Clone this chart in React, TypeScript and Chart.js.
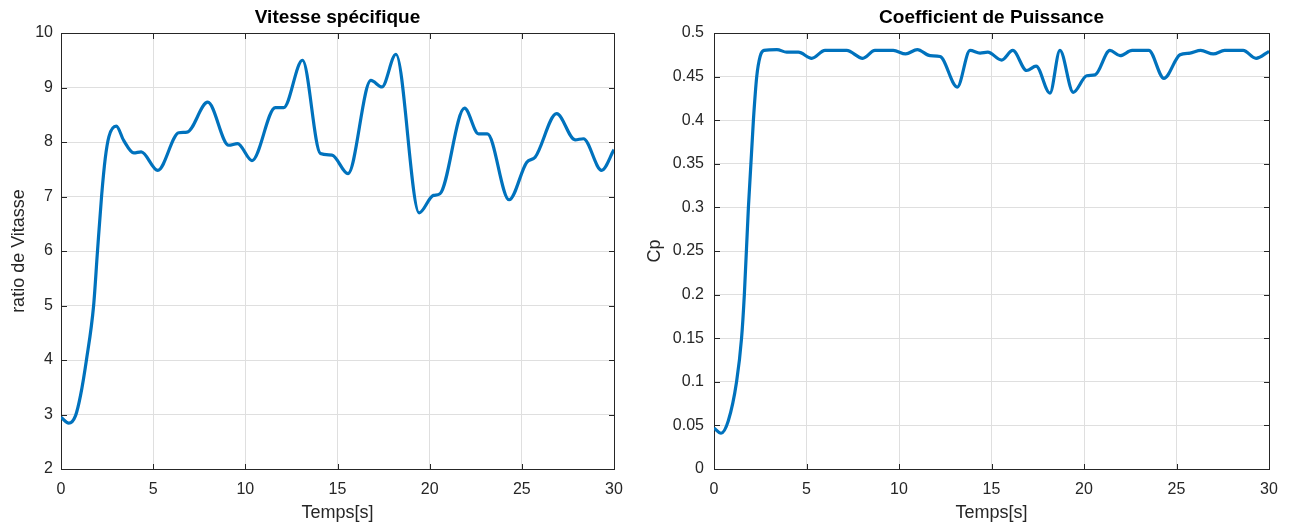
import React, { useEffect, useRef } from 'react';
import { Chart, registerables } from 'chart.js';

Chart.register(...registerables);

// ---- Data ----
const timeVitesse = [
  0, 0.42, 0.79, 1.06, 1.38, 1.77, 1.98, 2.2, 2.4, 2.6, 3.0, 3.4, 3.95, 4.35,
  5.25, 6.39, 6.84, 7.96, 9.1, 9.58, 10.36, 11.63, 12.08, 13.1, 14.07, 14.7, 15.57, 16.81,
  17.41, 18.17, 19.43, 20.2, 20.56, 21.89, 22.65, 23.13, 24.31, 25.27, 25.72, 26.89, 27.89,
  28.34, 29.33, 30,
];
const vitesse = [
  2.95, 2.84, 2.98, 3.35, 4.0, 5.0, 6.0, 7.0, 7.7, 8.1, 8.29, 8.03, 7.8, 7.82,
  7.48, 8.17, 8.18, 8.73, 7.94, 7.97, 7.66, 8.63, 8.63, 9.5, 7.79, 7.76, 7.42, 9.13,
  9.01, 9.61, 6.7, 7.02, 7.05, 8.62, 8.15, 8.15, 6.94, 7.63, 7.72, 8.52, 8.04,
  8.06, 7.48, 7.86,
];

const timeCp = [
  0, 0.38, 0.77, 1.22, 1.49, 1.64, 1.86, 2.13, 2.31, 2.49, 2.7, 3.4, 3.93, 4.56, 5.28, 6.0,
  7.17, 8.04, 8.7, 9.69, 10.36, 10.99, 11.68, 12.22, 13.15, 13.84, 14.38, 14.8, 15.55, 16.15,
  16.9, 17.41, 18.16, 18.7, 19.42, 20.15, 20.6, 21.4, 21.95, 22.6, 23.5, 24.32, 25.19, 25.73,
  26.31, 26.99, 27.6, 28.6, 29.3, 30,
];
const cp = [
  0.047, 0.041, 0.055, 0.1, 0.15, 0.2, 0.3, 0.4, 0.45, 0.473, 0.48, 0.481, 0.478, 0.478, 0.471, 0.48,
  0.48, 0.471, 0.48, 0.48, 0.476, 0.481, 0.474, 0.473, 0.438, 0.48, 0.477, 0.478, 0.469, 0.48,
  0.457, 0.462, 0.431, 0.48, 0.432, 0.451, 0.452, 0.48, 0.474, 0.48, 0.48, 0.448, 0.475, 0.477,
  0.48, 0.476, 0.48, 0.48, 0.471, 0.479,
];

const xRange = [0, 30];
const xStep = 5;
const vitRange = [2, 10];
const vitStep = 1;
const cpRange = [0, 0.5];
const cpStep = 0.05;

const titleVit = 'Vitesse spécifique';
const titleCp = 'Coefficient de Puissance';
const xLabel = 'Temps[s]';
const yLabelVit = 'ratio de Vitasse';
const yLabelCp = 'Cp';

// ---- Styles ----
const FONT = "'Liberation Sans', Arial, Helvetica, sans-serif";
const LINE = '#0072BD';
const AXIS = '#262626';
const GRID = '#dfdfdf';
const H = 524;
const PLOT_BOTTOM = 469;

const boxTicks = {
  id: 'boxTicks',
  afterDraw(chart: any) {
    const { ctx, chartArea, scales } = chart;
    const { left, right, top, bottom } = chartArea;
    const len = 5.5;
    const a = (v: number) => Math.round(v) + 0.5;
    ctx.save();
    ctx.strokeStyle = AXIS;
    ctx.lineWidth = 1;
    ctx.beginPath();
    ctx.moveTo(a(left), a(top));
    ctx.lineTo(a(right), a(top));
    ctx.lineTo(a(right), a(bottom));
    const x = scales.x;
    x.ticks.forEach((t: any) => {
      const px = a(x.getPixelForValue(t.value));
      ctx.moveTo(px, a(bottom));
      ctx.lineTo(px, a(bottom) - len);
      ctx.moveTo(px, a(top));
      ctx.lineTo(px, a(top) + len);
    });
    const y = scales.y;
    y.ticks.forEach((t: any) => {
      const py = a(y.getPixelForValue(t.value));
      ctx.moveTo(a(left), py);
      ctx.lineTo(a(left) + len, py);
      ctx.moveTo(a(right), py);
      ctx.lineTo(a(right) - len, py);
    });
    ctx.stroke();
    ctx.restore();
  },
};

type PanelProps = {
  title: string;
  yLabel: string;
  xs: number[];
  ys: number[];
  yRange: number[];
  yStep: number;
  canvasLeft: number;
  canvasWidth: number;
  plotLeft: number;
  plotRight: number;
  yTitlePad: number;
  yTickPad: number;
};

function Panel(p: PanelProps) {
  const ref = useRef<HTMLCanvasElement | null>(null);
  useEffect(() => {
    if (!ref.current) return;
    const data = p.xs.map((x, i) => ({ x, y: p.ys[i] }));
    const chart = new Chart(ref.current, {
      type: 'line',
      data: {
        datasets: [
          {
            data,
            borderColor: LINE,
            borderWidth: 3.2,
            pointRadius: 0,
            fill: false,
            cubicInterpolationMode: 'monotone',
          },
        ],
      },
      options: {
        animation: false,
        responsive: false,
        maintainAspectRatio: false,
        layout: { padding: { left: 0, top: 0, bottom: 0, right: p.canvasWidth - p.plotRight } },
        plugins: {
          legend: { display: false },
          tooltip: { enabled: false },
          title: {
            display: true,
            fullSize: false,
            text: p.title,
            color: '#000',
            font: { family: FONT, size: 19, weight: 'bold', lineHeight: 1.2 },
            padding: { top: 6.4, bottom: 3.8 },
          },
        },
        scales: {
          x: {
            type: 'linear',
            min: xRange[0],
            max: xRange[1],
            afterFit: (s: any) => {
              s.height = H - PLOT_BOTTOM;
            },
            ticks: {
              stepSize: xStep,
              color: AXIS,
              padding: 11,
              maxRotation: 0,
              font: { family: FONT, size: 16 },
            },
            grid: { color: GRID, drawTicks: false, lineWidth: 1 },
            border: { color: AXIS, width: 1 },
            title: {
              display: true,
              text: xLabel,
              color: AXIS,
              font: { family: FONT, size: 18, lineHeight: 1.2 },
              padding: { top: 0, bottom: 0 },
            },
          },
          y: {
            type: 'linear',
            min: p.yRange[0],
            max: p.yRange[1],
            afterFit: (s: any) => {
              s.width = p.plotLeft;
            },
            ticks: {
              stepSize: p.yStep,
              color: AXIS,
              padding: p.yTickPad,
              font: { family: FONT, size: 16 },
              callback: (v: any) => String(parseFloat(Number(v).toFixed(2))),
            },
            grid: { color: GRID, drawTicks: false, lineWidth: 1 },
            border: { color: AXIS, width: 1 },
            title: {
              display: true,
              text: p.yLabel,
              color: AXIS,
              font: { family: FONT, size: 18, lineHeight: 1.2 },
              padding: { top: p.yTitlePad, bottom: 0 },
            },
          },
        },
      } as any,
      plugins: [boxTicks],
    });
    return () => chart.destroy();
  }, []);
  return (
    <canvas
      ref={ref}
      width={p.canvasWidth}
      height={H}
      style={{ position: 'absolute', left: p.canvasLeft, top: 0, width: p.canvasWidth, height: H }}
    />
  );
}

export default function App() {
  return (
    <div
      style={{
        position: 'absolute',
        left: 0,
        top: 0,
        width: 1289,
        height: 524,
        overflow: 'hidden',
        background: '#fff',
      }}
    >
      <Panel
        title={titleVit}
        yLabel={yLabelVit}
        xs={timeVitesse}
        ys={vitesse}
        yRange={vitRange}
        yStep={vitStep}
        canvasLeft={0}
        canvasWidth={644}
        plotLeft={61}
        plotRight={614}
        yTitlePad={8}
        yTickPad={8}
      />
      <Panel
        title={titleCp}
        yLabel={yLabelCp}
        xs={timeCp}
        ys={cp}
        yRange={cpRange}
        yStep={cpStep}
        canvasLeft={644}
        canvasWidth={645}
        plotLeft={70}
        plotRight={625}
        yTitlePad={0.5}
        yTickPad={10}
      />
    </div>
  );
}
